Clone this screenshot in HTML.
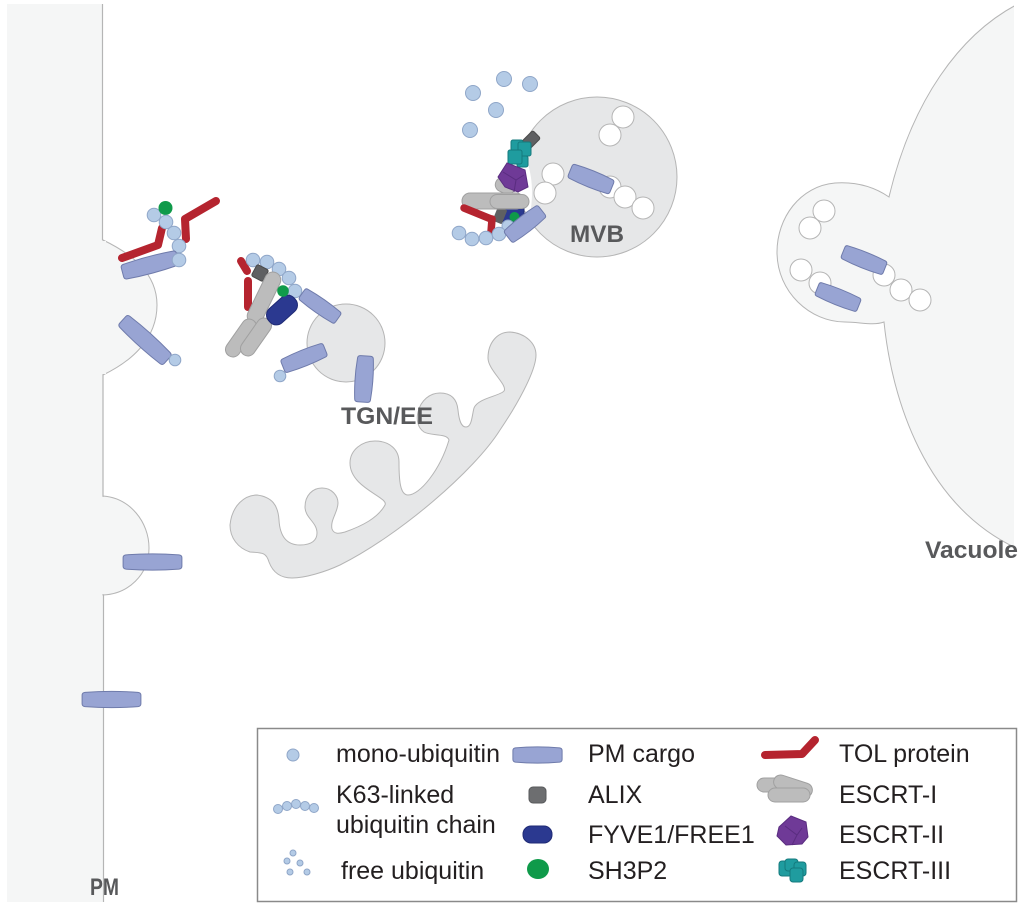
<!DOCTYPE html>
<html><head><meta charset="utf-8"><style>
html,body{margin:0;padding:0;background:#fff}
svg{display:block}
.lab{font-family:"Liberation Sans",sans-serif;font-weight:bold;fill:#58595b;font-size:24.5px}
.leg{font-family:"Liberation Sans",sans-serif;fill:#231f20;font-size:25px}
.u{fill:#b4cbe6;stroke:#8fa6c8;stroke-width:1}
.w{fill:#fff;stroke:#b5b5b5;stroke-width:1}
.t{fill:none;stroke:#b5242f;stroke-linecap:round;stroke-linejoin:round}
.g{fill:#bcbcbc;stroke:#a0a0a0;stroke-width:1}
.m{fill:#f5f6f6;stroke:#b5b5b5;stroke-width:1}
.e{fill:#e6e7e8;stroke:#b5b5b5;stroke-width:1}
.c{fill:#98a4d3;stroke:#6f7bab;stroke-width:1;vector-effect:non-scaling-stroke}
.p{fill:#6f3a97;stroke:#5a2d80;stroke-width:1}
.q{fill:#1f9c9f;stroke:#147a7d;stroke-width:1}
</style></head><body>
<svg width="1023" height="904" viewBox="0 0 1023 904" xmlns="http://www.w3.org/2000/svg">
<defs>
<path id="c" class="c" d="M-27,-7.500 Q0,-9.500 27,-7.500 Q30,-7.200 30,-4.500 L30,4.500 Q30,7.200 27,7.500 Q0,9.500 -27,7.500 Q-30,7.200 -30,4.500 L-30,-4.500 Q-30,-7.200 -27,-7.500 Z"/>
</defs>
<rect width="1023" height="904" fill="#fff"/>

<!-- PM -->
<rect x="7" y="4" width="96" height="898" fill="#f5f6f6"/>
<path d="M103,240 C130,253 157,272 157,305 C157,340 130,362 103,375 Z" class="m"/>
<path d="M103,496 C130,498 149,522 149,548 C149,575 128,594 103,595 Z" class="m"/>
<path d="M102.500,4 V240 M103,375 V496 M103.500,595 V902" stroke="#b5b5b5" stroke-width="1.200" fill="none"/>
<rect x="100" y="241" width="6" height="133" fill="#f5f6f6"/>
<rect x="100" y="497" width="6" height="97" fill="#f5f6f6"/>

<!-- Vacuole -->
<path d="M1016,5 C960,35 912,100 889,197 C870,184 850,182 835,183 C800,186 777,218 777,252 C777,292 810,322 845,322 C860,322 873,326 884,322 C892,400 925,505 1016,548 Z" class="m"/>
<rect x="1014" y="0" width="4" height="560" fill="#fff"/>
<circle cx="824" cy="211" r="11" class="w"/><circle cx="810" cy="228" r="11" class="w"/>
<circle cx="801" cy="270" r="11" class="w"/><circle cx="820" cy="283" r="11" class="w"/>
<circle cx="884" cy="275" r="11" class="w"/><circle cx="901" cy="290" r="11" class="w"/><circle cx="920" cy="300" r="11" class="w"/>
<use href="#c" transform="translate(864,260) rotate(22) scale(.75,.95)"/>
<use href="#c" transform="translate(838,297) rotate(22) scale(.75,.95)"/>

<!-- MVB -->
<circle cx="597" cy="177" r="80" class="e"/>
<path d="M522,150 C530,165 535,185 530,215 L518,205 L520,165 Z" fill="#fff"/>
<circle cx="623" cy="117" r="11" class="w"/><circle cx="610" cy="135" r="11" class="w"/>
<circle cx="553" cy="174" r="11" class="w"/><circle cx="545" cy="193" r="11" class="w"/>
<circle cx="610" cy="187" r="11" class="w"/><circle cx="625" cy="197" r="11" class="w"/><circle cx="643" cy="208" r="11" class="w"/>
<use href="#c" transform="translate(591,179) rotate(22) scale(.75,1)"/>

<!-- Free ubiquitin -->
<circle cx="473" cy="93" r="7.500" class="u"/><circle cx="504" cy="79" r="7.500" class="u"/><circle cx="530" cy="84" r="7.500" class="u"/><circle cx="496" cy="110" r="7.500" class="u"/><circle cx="470" cy="130" r="7.500" class="u"/>

<!-- MVB machinery -->
<rect x="525.500" y="132" width="11" height="16" rx="2" fill="#5f6062" stroke="#4a4a4a" transform="rotate(45 531 140)"/>
<rect x="511" y="140" width="12" height="11" rx="2" class="q"/>
<rect x="518" y="142" width="13" height="14" rx="2" class="q"/>
<rect x="517" y="156" width="11" height="11" rx="2" class="q"/>
<rect x="508" y="150" width="14" height="14" rx="2" class="q"/>
<rect x="495" y="179" width="20" height="14" rx="7" class="g" transform="rotate(25 505 186)"/>
<path d="M507,163 L525,170 L528,187 L518,192 L505,187 L498,177 Z" class="p"/>
<path d="M503,172 L516,180 L524,175 M516,180 L514,192" stroke="#5a2d80" fill="none"/>
<rect x="503" y="206" width="21" height="18" fill="#2b3990" stroke="#1f2a75"/>
<rect x="495" y="208" width="10" height="15" rx="1" fill="#5f6062" transform="rotate(22 500 215)"/>
<circle cx="514.500" cy="217" r="5" fill="#0f9a4a"/>
<rect x="462" y="193" width="62" height="16" rx="8" class="g"/>
<rect x="490" y="194.500" width="39" height="14" rx="7" class="g"/>
<path d="M464,208 L491,219 M492,219 L491,232" class="t" stroke-width="7.500"/>
<circle cx="508" cy="226" r="6" class="u"/>
<circle cx="459" cy="233" r="6.800" class="u"/><circle cx="472" cy="239" r="6.800" class="u"/><circle cx="486" cy="238" r="6.800" class="u"/><circle cx="499" cy="234" r="6.800" class="u"/>
<use href="#c" transform="translate(525,224) rotate(-38) scale(.72,1)"/>

<!-- Left bump cluster -->
<path d="M122,258 L158,245 L162,228" class="t" stroke-width="8"/>
<path d="M186,239 L185,219 L216,201" class="t" stroke-width="8"/>
<circle cx="154" cy="215" r="6.800" class="u"/>
<circle cx="165.500" cy="208" r="7" fill="#0f9a4a"/>
<circle cx="166" cy="222" r="6.800" class="u"/><circle cx="174" cy="233" r="6.800" class="u"/><circle cx="179" cy="246" r="6.800" class="u"/>
<use href="#c" transform="translate(150,265) rotate(-15) scale(.95,1)"/>
<circle cx="179" cy="260" r="6.800" class="u"/>
<use href="#c" transform="translate(145,340) rotate(42) scale(1,1)"/>
<circle cx="175" cy="360" r="5.800" class="u"/>

<!-- TGN -->
<circle cx="346" cy="343" r="39" class="e"/>
<path d="M241,261 L247,271" class="t" stroke-width="8"/>
<path d="M248,281 L248,307" class="t" stroke-width="8"/>
<circle cx="253" cy="260" r="6.800" class="u"/><circle cx="267" cy="262" r="6.800" class="u"/><circle cx="279" cy="269" r="6.800" class="u"/><circle cx="289" cy="278" r="6.800" class="u"/><circle cx="295" cy="291" r="6.800" class="u"/>
<rect x="253.500" y="266.500" width="13" height="13" rx="2" fill="#5f6062" stroke="#4a4a4a" transform="rotate(28 260 273)"/>
<rect x="236" y="290" width="56" height="16" rx="8" class="g" transform="rotate(-64 264 298)"/>
<rect x="219.500" y="330.500" width="43" height="15" rx="7.500" class="g" transform="rotate(-55 241 338)"/>
<rect x="234.500" y="329.500" width="43" height="15" rx="7.500" class="g" transform="rotate(-55 256 337)"/>
<rect x="265" y="300.500" width="34" height="19" rx="8.500" fill="#2b3990" stroke="#1f2a75" transform="rotate(-42 282 310)"/>
<circle cx="283" cy="291" r="5.800" fill="#0f9a4a"/>
<use href="#c" transform="translate(320,306) rotate(35) scale(.73,.9)"/>
<use href="#c" transform="translate(304,358) rotate(-22) scale(.76,.95)"/>
<circle cx="280" cy="376" r="5.800" class="u"/>
<use href="#c" transform="translate(364,379) rotate(-86) scale(.77,1.050)"/>

<!-- Golgi -->
<path class="e" d="M230,525 C232,505 245,495 257,495 C272,497 278,505 279,520 C280,538 288,545 300,545 C312,545 317,540 317,533 C317,522 305,518 305,507 C305,495 313,488 322,488 C332,488 338,496 338,503 C338,512 330,520 332,529 C334,534 338,534 345,532 C362,526 378,518 385,505 C389,497 350,488 350,463 C350,450 362,441 375,441 C390,441 399,450 399,462 C399,480 400,495 408,495 C420,495 440,470 449,440 C447,433 430,436 424,432 C418,428 416,420 418,412 C421,400 430,393 440,393 C452,393 457,400 458,410 C459,420 461,427 466,427 C472,427 472,415 474,408 C478,398 500,396 504,391 C508,385 488,370 488,358 C488,343 497,332 510,332 C525,333 536,343 536,355 C536,372 515,408 500,430 C475,470 400,535 340,565 C325,572 305,578 292,578 C278,578 272,570 269,562 C266,552 262,553 250,552 C238,548 230,538 230,525 Z"/>

<!-- PM cargo -->
<use href="#c" transform="translate(152.500,562) scale(.98,.95)"/>
<use href="#c" transform="translate(111.500,699.500) scale(.98,.95)"/>

<!-- Labels -->
<text class="lab" x="341" y="424" textLength="92" lengthAdjust="spacingAndGlyphs">TGN/EE</text>
<text class="lab" x="570" y="242" textLength="54" lengthAdjust="spacingAndGlyphs">MVB</text>
<text class="lab" x="925" y="558" textLength="93" lengthAdjust="spacingAndGlyphs">Vacuole</text>
<text class="lab" x="90" y="895" textLength="29" lengthAdjust="spacingAndGlyphs">PM</text>

<!-- Legend -->
<rect x="257.500" y="728.500" width="759" height="173" fill="#fff" stroke="#8a8a8a" stroke-width="1.500"/>
<circle cx="293" cy="755" r="6" class="u"/>
<circle cx="278" cy="809" r="4.500" class="u"/><circle cx="287" cy="806" r="4.500" class="u"/><circle cx="296" cy="804" r="4.500" class="u"/><circle cx="305" cy="806" r="4.500" class="u"/><circle cx="314" cy="808" r="4.500" class="u"/>
<circle cx="293" cy="853" r="3" class="u"/><circle cx="287" cy="861" r="3" class="u"/><circle cx="300" cy="863" r="3" class="u"/><circle cx="290" cy="872" r="3" class="u"/><circle cx="307" cy="872" r="3" class="u"/>
<use href="#c" transform="translate(537.500,755) scale(.82,.95)"/>
<rect x="529" y="787" width="17" height="16" rx="4" fill="#6d6e70" stroke="#58595b"/>
<rect x="523" y="826" width="29" height="17" rx="8" fill="#2b3990" stroke="#1f2a75"/>
<ellipse cx="538" cy="869" rx="11" ry="10" fill="#0f9a4a"/>
<path d="M765,755 L802,754 L815,740" class="t" stroke-width="8"/>
<rect x="757" y="778" width="24" height="14" rx="7" class="g"/>
<rect x="773" y="779" width="40" height="14" rx="7" class="g" transform="rotate(18 793 786)"/>
<rect x="768" y="788" width="42" height="14" rx="7" class="g"/>
<path d="M791,816 L806,822 L808,837 L802,844 L786,845 L777,836 L779,827 Z" class="p"/>
<path d="M785,826 L797,835 L802,828 M797,835 L792,845" stroke="#5a2d80" fill="none"/>
<rect x="779" y="861" width="13" height="15" rx="3" class="q"/>
<rect x="785" y="859" width="13" height="12" rx="3" class="q"/>
<rect x="794" y="862" width="12" height="14" rx="3" class="q"/>
<rect x="790" y="868" width="13" height="14" rx="3" class="q"/>

<text class="leg" x="336" y="762">mono-ubiquitin</text>
<text class="leg" x="336" y="803">K63-linked</text>
<text class="leg" x="336" y="833">ubiquitin chain</text>
<text class="leg" x="341" y="879">free ubiquitin</text>
<text class="leg" x="588" y="762">PM cargo</text>
<text class="leg" x="588" y="803">ALIX</text>
<text class="leg" x="588" y="843">FYVE1/FREE1</text>
<text class="leg" x="588" y="879">SH3P2</text>
<text class="leg" x="839" y="762">TOL protein</text>
<text class="leg" x="839" y="803">ESCRT-I</text>
<text class="leg" x="839" y="843">ESCRT-II</text>
<text class="leg" x="839" y="879">ESCRT-III</text>
</svg>
</body></html>
